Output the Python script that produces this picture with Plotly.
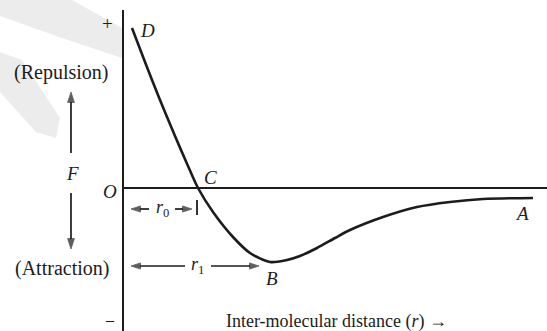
import plotly.graph_objects as go

# Force between two molecules vs. inter-molecular distance (arbitrary units)
r_vals = [9, 22, 37, 52, 65, 75, 90, 110, 127, 147, 162, 177, 194, 212, 227, 260, 294, 327, 360, 410]
F_vals = [160, 126, 88, 52, 22, 0, -24, -49, -65, -74, -72.5, -68, -60, -50, -42, -29, -19, -14, -11, -10]

r0 = 75     # distance where the force is zero (point C)
r1 = 140    # distance of maximum attraction (point B)

W, H = 547, 331
X_RANGE = [-123, 424]
Y_RANGE = [-143, 188]

INK = "#1c1c1c"
SERIF = "Liberation Serif"

fig = go.Figure()

fig.add_trace(go.Scatter(
    x=r_vals, y=F_vals, mode="lines",
    line=dict(color=INK, width=2.6, shape="spline", smoothing=0.8),
    hoverinfo="skip", showlegend=False,
))


def paper(xp, yp):
    return xp / W, 1 - yp / H


def path(points):
    pts = [paper(*p) for p in points]
    return "M " + " L ".join(f"{a:.4f},{b:.4f}" for a, b in pts) + " Z"


shapes = []
# faint diagonal watermark bands in the upper-left corner
for band in (
    [(0, 0), (72, 0), (122, 28), (122, 58), (62, 38), (0, 16)],
    [(0, 52), (22, 60), (60, 118), (56, 138), (36, 132), (0, 92)],
):
    shapes.append(dict(type="path", xref="paper", yref="paper", path=path(band),
                       fillcolor="#ececec", line=dict(width=0), layer="below"))

# F axis and r axis
shapes.append(dict(type="line", xref="x", yref="y", x0=0, x1=0, y0=178, y1=Y_RANGE[0],
                   line=dict(color=INK, width=2)))
shapes.append(dict(type="line", xref="x", yref="y", x0=0, x1=X_RANGE[1], y0=0, y1=0,
                   line=dict(color=INK, width=1.8)))
# end stop of the r0 dimension
shapes.append(dict(type="line", xref="x", yref="y", x0=r0 - 1, x1=r0 - 1, y0=-12, y1=-27,
                   line=dict(color=INK, width=1.8)))

fig.update_layout(shapes=shapes)


def label(x, y, text, size=19, italic=False):
    fig.add_annotation(x=x, y=y, xref="x", yref="y", text=text, showarrow=False,
                       font=dict(family=SERIF, size=size, color=INK,
                                 style="italic" if italic else "normal"))


def arrow(x_tail, y_tail, x_head, y_head, width=1.7, head=11):
    # shaft plus an arrowhead marker oriented along the shaft
    fig.add_trace(go.Scatter(
        x=[x_tail, x_head], y=[y_tail, y_head], mode="lines+markers",
        line=dict(color=INK, width=width),
        marker=dict(symbol="arrow", size=[0, head], angleref="previous",
                    color=INK, line=dict(width=0.8, color=INK)),
        hoverinfo="skip", showlegend=False,
    ))


label(-16, 165, "+", size=19)
label(24, 158, "D", italic=True)
label(-62, 116, "(Repulsion)", size=20)
arrow(-52, 35, -52, 96)
label(-51, 15, "F", italic=True)
label(-13, -3, "O", italic=True)
arrow(-52, -5, -52, -61)
label(-61, -80, "(Attraction)", size=20)
label(-13, -131, "–", size=16)
label(87, 11, "C", italic=True)

# r0 dimension
label(39, -20, "<i>r</i><sub>0</sub>", size=18)
arrow(26, -21, 8, -21, head=10)
arrow(52, -21, r0 - 6, -21, head=10)

# r1 dimension
label(74, -77, "<i>r</i><sub>1</sub>", size=18)
arrow(62, -78, 8, -78, head=10)
arrow(88, -78, r1 - 4, -78, head=10)

label(149, -90, "B", italic=True)
label(399, -25, "A", italic=True)
label(213, -133, "Inter-molecular distance (<i>r</i>) →", size=18)

fig.update_layout(
    width=W, height=H,
    margin=dict(l=0, r=0, t=0, b=0),
    paper_bgcolor="white", plot_bgcolor="white",
    xaxis=dict(range=X_RANGE, visible=False, fixedrange=True),
    yaxis=dict(range=Y_RANGE, visible=False, fixedrange=True),
    showlegend=False,
)

fig.write_html("out.html")
